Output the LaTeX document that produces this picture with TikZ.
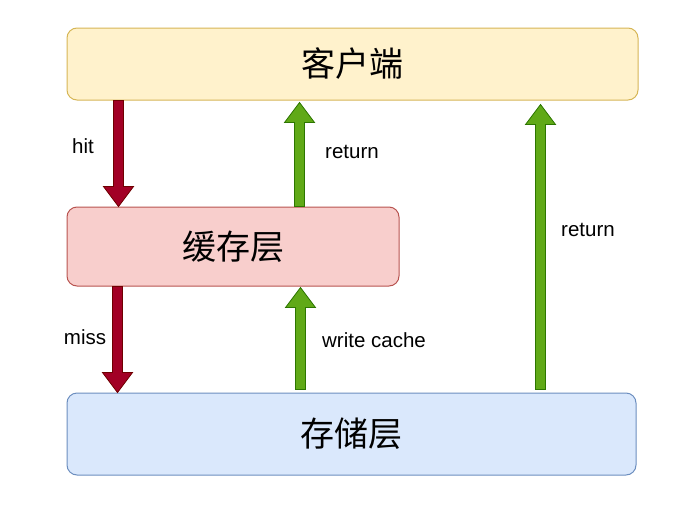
\documentclass[tikz,border=0pt]{standalone}
\usepackage{fontspec}
\setmainfont{Liberation Sans}
\newfontfamily\cjk{Noto Sans CJK SC}
\usetikzlibrary{calc}
\definecolor{yfill}{HTML}{FFF2CC}\definecolor{ydraw}{HTML}{D6B656}
\definecolor{rfill}{HTML}{F8CECC}\definecolor{rdraw}{HTML}{B85450}
\definecolor{bfill}{HTML}{DAE8FC}\definecolor{bdraw}{HTML}{6C8EBF}
\definecolor{darrowfill}{HTML}{A20025}\definecolor{darrowdraw}{HTML}{6F0000}
\definecolor{garrowfill}{HTML}{60A917}\definecolor{garrowdraw}{HTML}{2D7600}
\begin{document}
\begin{tikzpicture}[x=1pt, y=-1pt,
    layer/.style={rounded corners=10pt, inner sep=0pt, line width=1pt, font=\cjk\fontsize{34}{40}\selectfont},
    lbl/.style={font=\fontsize{20.5}{24}\selectfont, inner sep=0pt},
    blockarrow/.style={line width=0.8pt, line join=miter, to path={
        ($(\tikztotarget)!20pt!(\tikztostart)$) coordinate (bah)
        ($(\tikztostart)!5pt!90:(\tikztotarget)$) -- ($(bah)!5pt!90:(\tikztotarget)$)
        -- ($(bah)!15pt!90:(\tikztotarget)$) -- (\tikztotarget)
        -- ($(bah)!15pt!-90:(\tikztotarget)$) -- ($(bah)!5pt!-90:(\tikztotarget)$)
        -- ($(\tikztostart)!5pt!-90:(\tikztotarget)$) -- cycle}},
    missarrow/.style={blockarrow, draw=darrowdraw, fill=darrowfill},
    retarrow/.style={blockarrow, draw=garrowdraw, fill=garrowfill}]

    \useasboundingbox (0,0) rectangle (683,509);

    \node[layer, draw=ydraw, fill=yfill, minimum width=571pt, minimum height=72pt] (client) at (352.5,64) {客户端};
    \node[layer, draw=rdraw, fill=rfill, minimum width=332pt, minimum height=79pt] (cache) at (233,246.5) {缓存层};
    \node[layer, draw=bdraw, fill=bfill, minimum width=569pt, minimum height=82pt] (store) at (351.5,434) {存储层};

    % down: hit / miss
    \draw[missarrow] ([xshift=52pt]client.south west) to ([xshift=52pt]cache.north west);
    \draw[missarrow] ([xshift=51pt]cache.south west) to ([xshift=51pt]store.north west);

    % up: return / write cache
    \draw[retarrow] ([xshift=233pt]cache.north west) to ([xshift=233pt, yshift=-2pt]client.south west);
    \draw[retarrow] ([xshift=234pt, yshift=3pt]store.north west) to ([xshift=234pt, yshift=-1pt]cache.south west);
    \draw[retarrow] ([xshift=474pt, yshift=3pt]store.north west) to ([xshift=474pt, yshift=-4pt]client.south west);

    \node[lbl] (hit) at (83,146) {hit};
    \node[lbl] (ret1) at (352,152) {return};
    \node[lbl] (miss) at (85,337) {miss};
    \node[lbl] (wcache) at (374,340) {write cache};
    \node[lbl] (ret2) at (588,230) {return};
\end{tikzpicture}
\end{document}
